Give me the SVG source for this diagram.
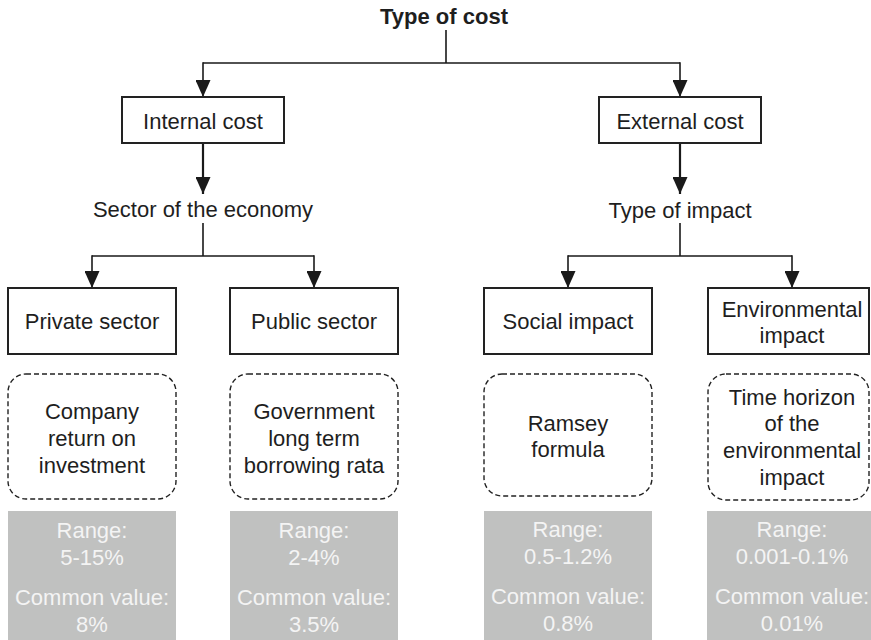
<svg xmlns="http://www.w3.org/2000/svg" width="871" height="640" viewBox="0 0 871 640">
<defs>
<marker id="ah" viewBox="0 0 17 15" refX="17" refY="7.5" markerWidth="17" markerHeight="15" markerUnits="userSpaceOnUse" orient="auto">
<path d="M0,0 L17,7.5 L0,15 z" fill="#1a1a1a"/>
</marker>
<style>
text{font-family:"Liberation Sans",Arial,sans-serif;font-size:22px;fill:#1e1e1e;text-anchor:middle}
.title{font-weight:bold}
.box{fill:#fff;stroke:#222;stroke-width:2}
.dash{fill:#fff;stroke:#222;stroke-width:1.4;stroke-dasharray:5 3}
.gray{fill:#c0c1c0;stroke:none}
.gt{fill:#f4f4f4}
.c{fill:none;stroke:#1a1a1a;stroke-width:1.6}
.ca{fill:none;stroke:#1a1a1a;stroke-width:1.6;marker-end:url(#ah)}
.cb{fill:none;stroke:#1a1a1a;stroke-width:2.2;marker-end:url(#ah)}
</style>
</defs>
<rect width="871" height="640" fill="#fff"/>
<g id="connectors">
<path class="c" d="M446,30 V63 M203,63 H680"/>
<path class="ca" d="M203,62.2 V97"/>
<path class="ca" d="M680,62.2 V97"/>
<path class="cb" d="M203,143 V194"/>
<path class="cb" d="M680,143 V194"/>
<path class="c" d="M203,223 V256 M92,256 H314"/>
<path class="ca" d="M92,255.2 V288"/>
<path class="ca" d="M314,255.2 V288"/>
<path class="c" d="M680,223 V256 M568,256 H792"/>
<path class="ca" d="M568,255.2 V288"/>
<path class="ca" d="M792,255.2 V288"/>
</g>
<g id="type-of-cost"><text class="title" x="444" y="24">Type of cost</text></g>
<g id="internal-cost"><rect class="box" x="122" y="97" width="162" height="46"/><text x="203" y="129">Internal cost</text></g>
<g id="external-cost"><rect class="box" x="599" y="97" width="162" height="46"/><text x="680" y="129">External cost</text></g>
<g id="sector-of-economy"><text x="203" y="217">Sector of the economy</text></g>
<g id="type-of-impact"><text x="680" y="218">Type of impact</text></g>
<g id="private-sector"><rect class="box" x="8" y="288" width="168" height="66"/><text x="92" y="329">Private sector</text></g>
<g id="public-sector"><rect class="box" x="230" y="288" width="168" height="66"/><text x="314" y="329">Public sector</text></g>
<g id="social-impact"><rect class="box" x="484" y="288" width="168" height="66"/><text x="568" y="329">Social impact</text></g>
<g id="environmental-impact"><rect class="box" x="708" y="288" width="161" height="66"/><text x="792" y="317">Environmental</text><text x="792" y="343">impact</text></g>
<g id="company-return"><rect class="dash" x="8" y="374" width="168" height="125" rx="18"/><text x="92" y="419">Company</text><text x="92" y="446">return on</text><text x="92" y="473">investment</text></g>
<g id="government-borrowing"><rect class="dash" x="230" y="374" width="168" height="125" rx="18"/><text x="314" y="419">Government</text><text x="314" y="446">long term</text><text x="314" y="473">borrowing rata</text></g>
<g id="ramsey-formula"><rect class="dash" x="484" y="374" width="168" height="122" rx="18"/><text x="568" y="431">Ramsey</text><text x="568" y="457">formula</text></g>
<g id="time-horizon"><rect class="dash" x="708" y="374" width="161" height="126" rx="18"/><text x="792" y="405">Time horizon</text><text x="792" y="431">of the</text><text x="792" y="458">environmental</text><text x="792" y="485">impact</text></g>
<g id="values-private"><rect class="gray" x="8" y="511" width="168" height="129"/><text class="gt" x="92" y="538">Range:</text><text class="gt" x="92" y="565">5-15%</text><text class="gt" x="92" y="605">Common value:</text><text class="gt" x="92" y="632">8%</text></g>
<g id="values-public"><rect class="gray" x="230" y="511" width="168" height="129"/><text class="gt" x="314" y="538">Range:</text><text class="gt" x="314" y="565">2-4%</text><text class="gt" x="314" y="605">Common value:</text><text class="gt" x="314" y="632">3.5%</text></g>
<g id="values-social"><rect class="gray" x="484" y="511" width="168" height="129"/><text class="gt" x="568" y="537">Range:</text><text class="gt" x="568" y="564">0.5-1.2%</text><text class="gt" x="568" y="604">Common value:</text><text class="gt" x="568" y="631">0.8%</text></g>
<g id="values-environmental"><rect class="gray" x="707" y="511" width="164" height="129"/><text class="gt" x="792" y="537">Range:</text><text class="gt" x="792" y="564">0.001-0.1%</text><text class="gt" x="792" y="604">Common value:</text><text class="gt" x="792" y="631">0.01%</text></g>
</svg>
